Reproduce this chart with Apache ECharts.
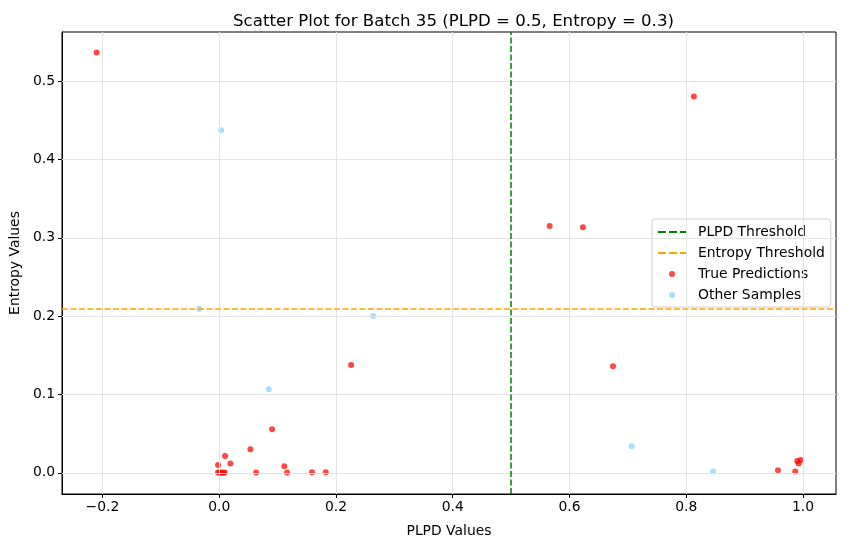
<!DOCTYPE html>
<html>
<head>
<meta charset="utf-8">
<script src="https://cdn.jsdelivr.net/npm/echarts@6/dist/echarts.min.js"></script>
<style>html,body{margin:0;padding:0;background:#fff}#c{width:846px;height:547px}</style>
</head>
<body>
<div id="c"></div>
<script>
// ---- data ----
const trueX = [-0.210, 0.813, 0.566, 0.623, 0.6745, 0.226, 0.0906, 0.0535, 0.0101, -0.0019, 0.0192, -0.002, 0.001, 0.004, 0.007, 0.0096, 0.0632, 0.1116, 0.1163, 0.159, 0.1825, 0.957, 0.9866, 0.990, 0.996, 0.9925];
const trueY = [0.5366, 0.4804, 0.3151, 0.3135, 0.1362, 0.1377, 0.0557, 0.0302, 0.0216, 0.0101, 0.0119, 0.0004, 0.0003, 0.0006, 0.0002, 0.0005, 0.0004, 0.0084, 0.0004, 0.0008, 0.0008, 0.0033, 0.0017, 0.0152, 0.0165, 0.0119];
const otherX = [0.0033, -0.034, 0.0849, 0.2637, 0.7065, 0.8457];
const otherY = [0.4374, 0.2095, 0.1068, 0.2001, 0.034, 0.0017];
const plpdThreshold = 0.5;
const entropyThreshold = 0.208;
const xTicks = [-0.2, 0.0, 0.2, 0.4, 0.6, 0.8, 1.0];
const yTicks = [0.0, 0.1, 0.2, 0.3, 0.4, 0.5];
const titleText = 'Scatter Plot for Batch 35 (PLPD = 0.5, Entropy = 0.3)';

const font = 'DejaVu Sans';
const fs = 13.9;
const zip = (a, b) => a.map((v, i) => [v, b[i]]);
const dashIcon = 'path://M0,0h8v2h-8z M11,0h8v2h-8z M22,0h6v2h-6z';

const chart = echarts.init(document.getElementById('c'), null, {renderer: 'canvas'});
chart.setOption({
  animation: false,
  backgroundColor: '#fff',
  title: {
    text: titleText, left: 448.5, textAlign: 'center', top: 8,
    textStyle: {fontFamily: font, fontSize: 16.6, fontWeight: 'normal', color: '#000'}
  },
  grid: {left: 61, right: 10, top: 32, bottom: 53, show: true, borderColor: '#000', borderWidth: 1, containLabel: false},
  legend: {
    orient: 'vertical', left: 652, top: 219,
    itemWidth: 28, itemHeight: 6, itemGap: 5,
    padding: [5, 6, 4, 6],
    backgroundColor: '#fff', borderColor: '#d0d0d0', borderWidth: 1, borderRadius: 3,
    textStyle: {fontFamily: font, fontSize: fs, color: '#000', lineHeight: 16, padding: [0, 0, 0, 7]},
    data: [
      {name: 'PLPD Threshold', icon: dashIcon, itemStyle: {color: 'green'}},
      {name: 'Entropy Threshold', icon: dashIcon, itemStyle: {color: 'orange'}},
      {name: 'True Predictions', icon: 'circle', itemStyle: {color: 'red'}},
      {name: 'Other Samples', icon: 'circle', itemStyle: {color: 'lightskyblue'}}
    ]
  },
  xAxis: {
    type: 'value', min: -0.2692, max: 1.0564,
    name: 'PLPD Values', nameLocation: 'middle', nameGap: 30,
    nameTextStyle: {fontFamily: font, fontSize: fs, color: '#000'},
    axisLine: {show: true, onZero: false, lineStyle: {color: '#000', width: 1}},
    axisTick: {show: true, inside: false, length: 4, customValues: xTicks, lineStyle: {color: '#000'}},
    axisLabel: {customValues: xTicks, fontFamily: font, fontSize: fs, color: '#000', margin: 6,
      formatter: v => (v < 0 ? '\u2212' : '') + Math.abs(v).toFixed(1)},
    splitLine: {show: false}
  },
  yAxis: {
    type: 'value', min: -0.027, max: 0.5627,
    name: 'Entropy Values', nameLocation: 'middle', nameGap: 35, nameRotate: 90,
    nameTextStyle: {fontFamily: font, fontSize: fs, color: '#000'},
    axisLine: {show: true, onZero: false, lineStyle: {color: '#000', width: 1}},
    axisTick: {show: true, inside: false, length: 4, customValues: yTicks, lineStyle: {color: '#000'}},
    axisLabel: {customValues: yTicks, fontFamily: font, fontSize: fs, color: '#000', margin: 7,
      formatter: v => v.toFixed(1)},
    splitLine: {show: false}
  },
  series: [
    {
      name: 'grid', type: 'scatter', data: [], z: 0, silent: true,
      markLine: {
        silent: true, symbol: 'none', label: {show: false}, animation: false,
        lineStyle: {color: '#e3e3e3', width: 1, type: 'solid'},
        data: xTicks.map(v => ({xAxis: v})).concat(yTicks.map(v => ({yAxis: v})))
      }
    },
    {
      name: 'PLPD Threshold', type: 'line', data: [], z: 3, color: 'green',
      markLine: {
        silent: true, symbol: 'none', label: {show: false}, animation: false,
        lineStyle: {color: 'green', width: 1.5, type: [6, 2.5]},
        data: [{xAxis: plpdThreshold}]
      }
    },
    {
      name: 'Entropy Threshold', type: 'line', data: [], z: 3, color: 'orange',
      markLine: {
        silent: true, symbol: 'none', label: {show: false}, animation: false,
        lineStyle: {color: 'orange', width: 1.5, type: [6, 2.5]},
        data: [{yAxis: entropyThreshold}]
      }
    },
    {
      name: 'True Predictions', type: 'scatter', z: 4, symbolSize: 6,
      itemStyle: {color: 'red', opacity: 0.72}, color: 'red',
      data: zip(trueX, trueY)
    },
    {
      name: 'Other Samples', type: 'scatter', z: 4, symbolSize: 6,
      itemStyle: {color: 'lightskyblue', opacity: 0.72}, color: 'lightskyblue',
      data: zip(otherX, otherY)
    }
  ]
});
</script>
</body>
</html>
